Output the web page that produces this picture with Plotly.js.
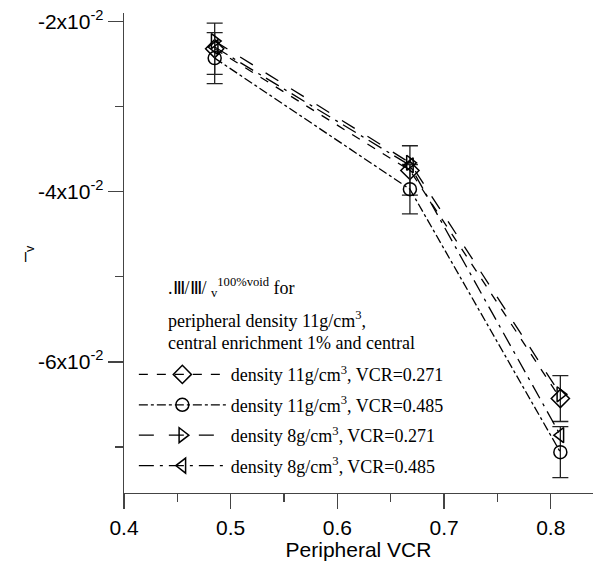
<!DOCTYPE html>
<html><head><meta charset="utf-8">
<script src="https://cdn.plot.ly/plotly-3.0.1.min.js"></script>
<style>body{margin:0;background:#fff}</style></head>
<body><div id="c" style="width:593px;height:568px"></div>
<script>
// Data
const vcr = [0.485, 0.668, 0.809];
const yDiamond = [-0.0232, -0.0375, -0.0643];   // density 11, VCR=0.271
const errDiamond = [0.003, 0.0029, 0.0027];
const yCircle = [-0.0243, -0.0397, -0.0706];    // density 11, VCR=0.485
const errCircle = [0.003, 0.0029, 0.003];
const yRightTri = [-0.0223, -0.0366, -0.0638];  // density 8, VCR=0.271
const yLeftTri = [-0.0230, -0.0369, -0.0686];   // density 8, VCR=0.485
const seriesNames = [
  "density 11g/cm<sup>3</sup>, VCR=0.271",
  "density 11g/cm<sup>3</sup>, VCR=0.485",
  "density 8g/cm<sup>3</sup>, VCR=0.271",
  "density 8g/cm<sup>3</sup>, VCR=0.485"
];
const yTickVals = [-0.02, -0.04, -0.06];
const yTickText = ["-2x10<sup>-2</sup>", "-4x10<sup>-2</sup>", "-6x10<sup>-2</sup>"];
const yMinorVals = [-0.03, -0.05, -0.07];
const xTickVals = [0.4, 0.5, 0.6, 0.7, 0.8];
const xTickText = ["0.4", "0.5", "0.6", "0.7", "0.8"];
const headerLines = [
  ".Ⅲ/Ⅲ/ <sub>v</sub><sup>100%void</sup> for",
  "peripheral density 11g/cm<sup>3</sup>,",
  "central enrichment 1% and central"
];

const ink = '#000';
function tr(y, name, sym, size, dash, err, grp) {
  const t = {
    x: vcr, y: y, name: name, type: 'scatter', mode: 'lines+markers',
    legendgroup: grp,
    line: {color: ink, width: 1.3, dash: dash},
    marker: {symbol: sym, size: size, color: ink, line: {color: ink, width: 1.5}}
  };
  if (err) t.error_y = {type: 'data', array: err, visible: true, color: '#222', thickness: 1.3, width: 8};
  return t;
}
const data = [
  tr(yDiamond, seriesNames[0], 'diamond-open', 14, 'dash', errDiamond, 'a'),
  tr(yCircle, seriesNames[1], 'circle-open', 13, 'dashdot', errCircle, 'b'),
  tr(yRightTri, seriesNames[2], 'triangle-right-open', 13, 'longdash', null, 'c'),
  tr(yLeftTri, seriesNames[3], 'triangle-left-open', 13, 'longdashdot', null, 'd')
];

const serif = 'Liberation Serif, Times New Roman, serif';
const sans = 'Liberation Sans, Arial, sans-serif';
const layout = {
  width: 593, height: 568,
  margin: {l: 124, r: 0, t: 13, b: 75},
  paper_bgcolor: '#fff', plot_bgcolor: '#fff',
  showlegend: true,
  legend: {
    x: 0.021, y: 0.285, xanchor: 'left', yanchor: 'top',
    font: {family: serif, size: 18, color: ink},
    bgcolor: 'rgba(0,0,0,0)', borderwidth: 0,
    itemwidth: 87, traceorder: 'grouped', tracegroupgap: 4
  },
  xaxis: {
    range: [0.4, 0.8396], tickmode: 'array', tickvals: xTickVals, ticktext: xTickText,
    ticks: 'outside', ticklen: 15, tickwidth: 1.2, tickcolor: '#444',
    minor: {dtick: 0.05, tick0: 0.4, ticks: 'outside', ticklen: 8, tickwidth: 1.2, tickcolor: '#444'},
    showline: true, linecolor: '#444', linewidth: 1.3, showgrid: false, zeroline: false,
    tickfont: {family: sans, size: 21, color: ink},
    title: {text: 'Peripheral VCR', font: {family: sans, size: 21, color: ink}, standoff: 4}
  },
  yaxis: {
    range: [-0.0754, -0.019], tickmode: 'array', tickvals: yTickVals, ticktext: yTickText,
    ticks: 'outside', ticklen: 15, tickwidth: 1.2, tickcolor: '#444',
    minor: {tickvals: yMinorVals, ticks: 'outside', ticklen: 8, tickwidth: 1.2, tickcolor: '#444'},
    showline: true, linecolor: '#444', linewidth: 1.3, showgrid: false, zeroline: false,
    tickfont: {family: sans, size: 21, color: ink}
  },
  annotations: [
    {xref: 'paper', yref: 'paper', x: -0.24, y: 0.5, text: '–<sub>v</sub>', textangle: -90,
     showarrow: false, font: {family: sans, size: 18, color: ink}},
    ...headerLines.map((t, i) => ({
      xref: 'paper', yref: 'paper', x: 0.09, xanchor: 'left',
      y: [0.428, 0.362, 0.312][i], yanchor: 'middle', text: t, showarrow: false,
      font: {family: serif, size: 18, color: ink}
    }))
  ]
};
Plotly.newPlot('c', data, layout, {staticPlot: true, displayModeBar: false});
</script></body></html>
